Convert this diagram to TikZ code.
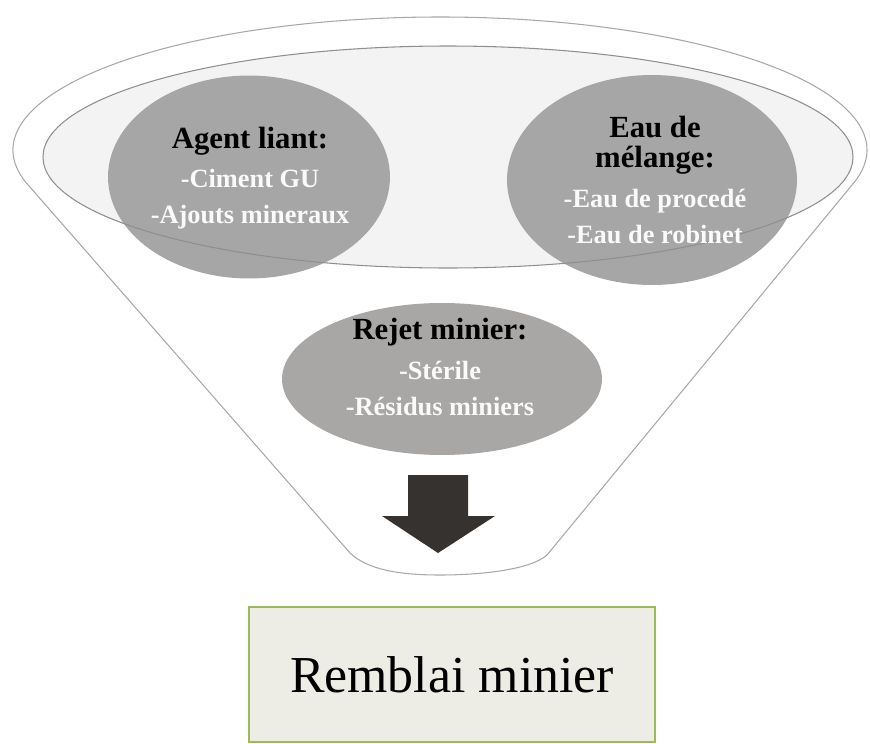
\documentclass[tikz,border=0pt]{standalone}
\usepackage{fontspec}
\setmainfont{Liberation Serif}
\usetikzlibrary{positioning,shapes.geometric}
\definecolor{blobgray}{HTML}{A6A6A6}
\definecolor{rejetgray}{HTML}{A9A7A5}
\definecolor{linegray}{HTML}{A8A8A8}
\definecolor{innerfill}{HTML}{F3F3F3}
\definecolor{arrowdark}{HTML}{36322F}
\definecolor{boxfill}{HTML}{EEEDE5}
\definecolor{boxgreen}{HTML}{9BBB59}
\newcommand{\blobhead}[1]{{\color{black}\fontsize{17.5}{20}\selectfont #1}}

\begin{document}
\begin{tikzpicture}[x=0.02cm, y=-0.02cm,
  funnel/.style={draw=linegray, line width=0.6pt, fill=white},
  blob/.style={ellipse, fill=blobgray, inner sep=0pt},
  blobtext/.style={align=center, font=\fontsize{15}{20.5}\selectfont\bfseries, text=white!96!gray},
  resultbox/.style={rectangle, draw=boxgreen, line width=1.2pt, fill=boxfill,
    minimum width=8.12cm, minimum height=2.7cm, font=\fontsize{29.5}{35}\selectfont}]
\useasboundingbox (0,0) rectangle (870,744);

% funnel outline
\draw[funnel] (25.7,182.2) arc[start angle=166, end angle=374, x radius=427, y radius=133]
  -- (547,555) .. controls (530,570) and (480,575) .. (440,575)
  .. controls (400,575) and (368,570) .. (350,553) -- cycle;
\fill[innerfill] (448,157) ellipse [x radius=405, y radius=111];

% ingredients
\node[blob, minimum width=5.64cm, minimum height=4.06cm] (liant) at (249,177) {};
\node[blob, minimum width=5.8cm, minimum height=4.2cm] (eau) at (652,180) {};
\node[blob, fill=rejetgray, minimum width=6.4cm, minimum height=3.04cm] (rejet) at (442,379) {};
\draw[linegray!85!black, line width=0.6pt] (448,157) ellipse [x radius=405, y radius=111];

\node[blobtext] (liantlabel) at (250,178) {\blobhead{Agent liant:}\\[2pt] -Ciment GU\\ -Ajouts mineraux};
\node[blobtext] (eaulabel) at (655,180) {\blobhead{Eau de}\\[-3.5pt] \blobhead{mélange:}\\[2pt] -Eau de procedé\\ -Eau de robinet};
\node[blobtext] (rejetlabel) at (440,367) {\blobhead{Rejet minier:}\\[2pt] -Stérile\\ -Résidus miniers};

% down arrow
\fill[arrowdark] (408,475) -- (468,475) -- (468,516) -- (495,516) -- (438,553)
  -- (382,516) -- (408,516) -- cycle;

\node[resultbox] (remblai) at (452,674.5) {Remblai minier};
\end{tikzpicture}
\end{document}
